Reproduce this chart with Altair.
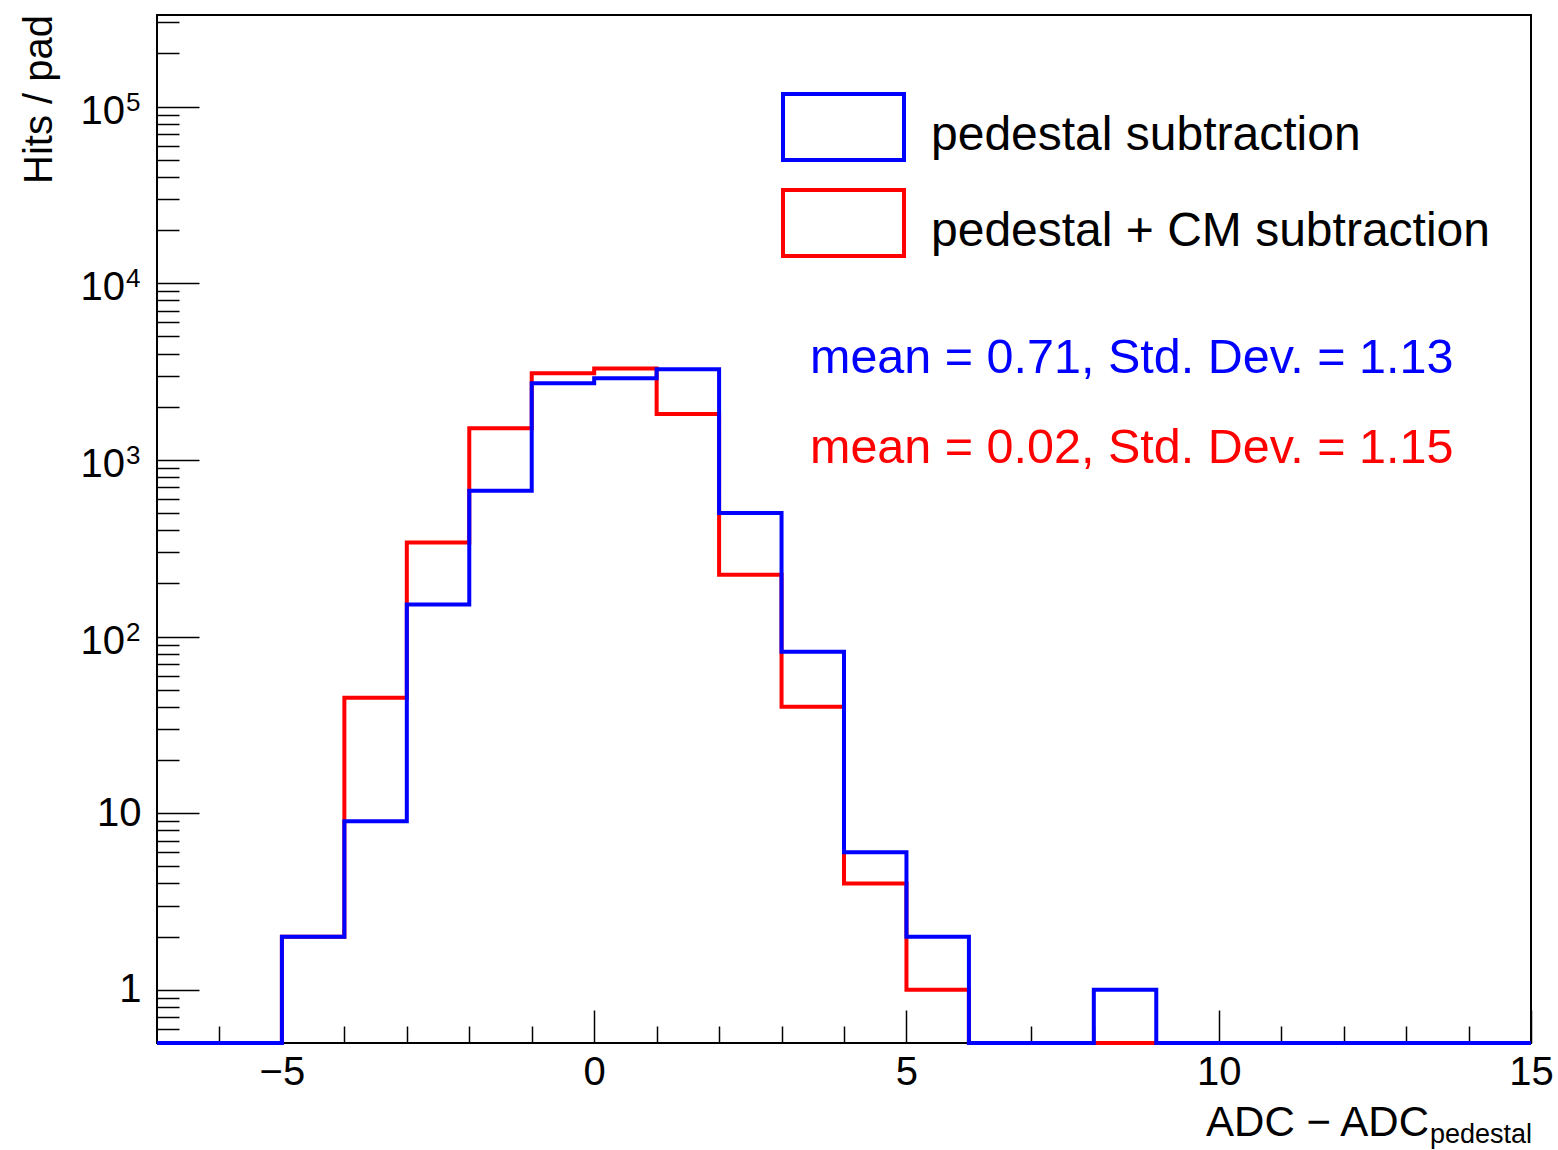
import altair as alt
import pandas as pd

# ---------------- data ----------------
bin_edges = list(range(-7, 16))  # 22 bins of width 1 from -7 to 15
blue_counts = [0, 0, 2, 9, 152, 668, 2712, 2895, 3254, 500, 82, 6, 2, 0, 0, 1, 0, 0, 0, 0, 0, 0]
red_counts = [0, 0, 2, 45, 341, 1511, 3089, 3296, 1820, 224, 40, 4, 1, 0, 0, 0, 0, 0, 0, 0, 0, 0]

series_names = ["pedestal subtraction", "pedestal + CM subtraction"]
series_colors = ["#0000ff", "#ff0000"]
stats_texts = ["mean = 0.71, Std. Dev. = 1.13", "mean = 0.02, Std. Dev. = 1.15"]

x_domain = [-7, 15]
y_domain = [0.5, 3.3e5]
x_major = [-5, 0, 5, 10, 15]
x_minor = [-6, -4, -3, -2, -1, 1, 2, 3, 4, 6, 7, 8, 9, 11, 12, 13, 14]
y_major = [1, 10, 100, 1000, 10000, 100000]
y_plain_labels = ["1", "10"]          # labels of 1 and 10
y_power_values = [100, 1000, 10000, 100000]
y_power_exps = ["2", "3", "4", "5"]  # labels 10^2 ... 10^5
y_minor = [0.6, 0.7, 0.8, 0.9] + [m * 10 ** e for e in range(0, 5) for m in range(2, 10)] + [200000, 300000]

x_title_main = "ADC − ADC"
x_title_sub = "pedestal"
y_title = "Hits / pad"

# ---------------- layout ----------------
W, H = 1374, 1028
FONT = "Liberation Sans"


def hist_df(counts):
    vals = counts + [counts[-1]]
    return pd.DataFrame({
        "edge": bin_edges,
        "count": vals,
        "val": [max(v, y_domain[0]) for v in vals],
    })


blue_df = hist_df(blue_counts)
red_df = hist_df(red_counts)

xscale = alt.Scale(domain=x_domain, nice=False, zero=False)
yscale = alt.Scale(type="log", domain=y_domain, nice=False)

plain_expr = "[" + ",".join("'%s'" % s for s in y_plain_labels) + "][round(log(datum.value)/LN10)]"

ax_x_labels = alt.Axis(orient="bottom", values=x_major, ticks=False, tickSize=0, domain=False, grid=False,
                       labelFont=FONT, labelFontSize=40, labelColor="black", labelPadding=9,
                       labelFlush=False, labelOverlap=False, title=None)
ax_x_major = alt.Axis(orient="top", offset=-H, values=x_major, tickSize=33, tickWidth=1.5, tickColor="black",
                      labels=False, domain=False, grid=False, title=None)
ax_x_minor = alt.Axis(orient="top", offset=-H, values=x_minor, tickSize=17, tickWidth=1.5, tickColor="black",
                      labels=False, domain=False, grid=False, title=None)

ax_y_labels = alt.Axis(orient="left", values=y_major[:2], ticks=False, tickSize=0, domain=False, grid=False,
                       labelFont=FONT, labelFontSize=40, labelColor="black", labelPadding=16,
                       labelExpr=plain_expr, labelOverlap=False, labelFlush=False, title=None)
ax_y_major = alt.Axis(orient="right", offset=-W, values=y_major, tickSize=42, tickWidth=1.5, tickColor="black",
                      labels=False, domain=False, grid=False, title=None)
ax_y_minor = alt.Axis(orient="right", offset=-W, values=y_minor, tickSize=22, tickWidth=1.5, tickColor="black",
                      labels=False, domain=False, grid=False, title=None)

red_line = alt.Chart(red_df).mark_line(interpolate="step-after", color=series_colors[1], strokeWidth=4).encode(
    x=alt.X("edge:Q", scale=xscale, axis=ax_x_labels),
    y=alt.Y("val:Q", scale=yscale, axis=ax_y_labels),
)
blue_line = alt.Chart(blue_df).mark_line(interpolate="step-after", color=series_colors[0], strokeWidth=4).encode(
    x=alt.X("edge:Q", scale=xscale, axis=ax_x_major),
    y=alt.Y("val:Q", scale=yscale, axis=ax_y_major),
)
minor_ticks = alt.Chart(blue_df).mark_line(strokeOpacity=0).encode(
    x=alt.X("edge:Q", scale=xscale, axis=ax_x_minor),
    y=alt.Y("val:Q", scale=yscale, axis=ax_y_minor),
)

# power-of-ten tick labels: "10" with a raised exponent, placed on the y scale
pow_df = pd.DataFrame({"v": y_power_values, "base": ["10"] * len(y_power_values), "exp": y_power_exps})
pow_base = alt.Chart(pow_df).mark_text(font=FONT, fontSize=40, color="black", align="right",
                                       baseline="middle", dy=5).encode(
    x=alt.value(-32), y=alt.Y("v:Q", scale=yscale, axis=None), text="base:N")
pow_exp = alt.Chart(pow_df).mark_text(font=FONT, fontSize=26, color="black", align="left",
                                      baseline="middle", dy=-4).encode(
    x=alt.value(-31), y=alt.Y("v:Q", scale=yscale, axis=None), text="exp:N")


def text_layer(txt, x, y, size, color="black", align="left", baseline="alphabetic", angle=0):
    kw = dict(font=FONT, fontSize=size, color=color, align=align, baseline=baseline)
    if angle:
        kw["angle"] = angle
    return alt.Chart(pd.DataFrame({"t": [txt]})).mark_text(**kw).encode(
        text="t:N", x=alt.value(x), y=alt.value(y))


layers = [red_line, blue_line, minor_ticks, pow_base, pow_exp]

# legend
box_x0, box_x1 = 626, 747
box_tops = [79, 175]
box_h = 66
text_base = [135, 231]
for i in range(2):
    layers.append(
        alt.Chart(pd.DataFrame({"s": [series_names[i]]})).mark_rect(
            fillOpacity=0, stroke=series_colors[i], strokeWidth=4).encode(
            x=alt.value(box_x0), x2=alt.value(box_x1),
            y=alt.value(box_tops[i]), y2=alt.value(box_tops[i] + box_h))
    )
    layers.append(text_layer(series_names[i], 774, text_base[i], 48))

# stats
stats_base = [358, 448]
for i in range(2):
    layers.append(text_layer(stats_texts[i], 653, stats_base[i], 48.5, color=series_colors[i]))

# axis titles
layers.append(text_layer(y_title, -105, 0, 40, align="right", angle=270))
layers.append(text_layer(x_title_main, 1272, 1121, 42, align="right"))
layers.append(text_layer(x_title_sub, 1273, 1128, 27, align="left"))

chart = alt.layer(*layers).resolve_axis(x="independent", y="independent").properties(
    width=W, height=H,
    background="white",
    autosize=alt.AutoSizeParams(type="none"),
    padding={"left": 157, "top": 15, "right": 27, "bottom": 107},
).configure_view(stroke="black", strokeWidth=2)

chart.save("out.html", embed_options={"renderer": "svg", "actions": False})
